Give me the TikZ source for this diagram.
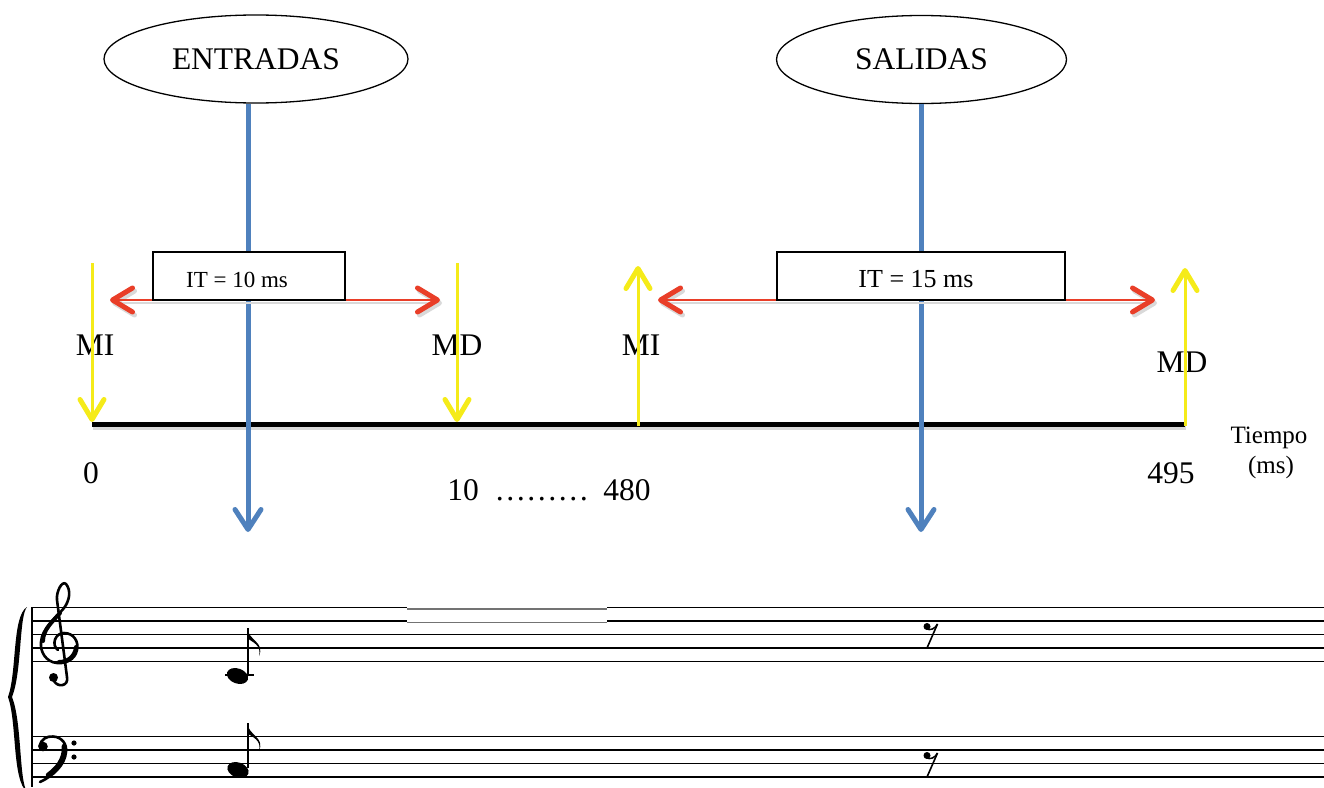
\documentclass[tikz,border=0pt]{standalone}
\usepackage{fontspec}
\setmainfont{Liberation Serif}
\usetikzlibrary{arrows.meta,shapes.geometric}
\definecolor{bluel}{RGB}{79,129,189}
\definecolor{redl}{RGB}{233,62,40}
\definecolor{yell}{RGB}{245,235,25}
\begin{document}
\begin{tikzpicture}[x=1pt,y=-1pt,
  bigtxt/.style={font=\fontsize{31.5}{36}\selectfont, inner sep=0pt, anchor=base},
  oval/.style={ellipse, draw, line width=1.3pt, minimum width=304pt, minimum height=88pt, inner sep=0pt, font=\fontsize{31.5}{36}\selectfont},
  itbox/.style={draw, line width=1.3pt, fill=white, inner sep=0pt, minimum height=48pt},
  bluearr/.style={line width=5pt, color=bluel, -{Straight Barb[length=20pt,width=26pt,round]}},
  redarr/.style={line width=2.5pt, color=redl, {Straight Barb[length=20pt,width=24pt,line width=5pt,round]}-{Straight Barb[length=20pt,width=24pt,line width=5pt,round]}},
  redshadow/.style={line width=2.5pt, color=black!15, {Straight Barb[length=20pt,width=24pt,line width=5pt,round]}-{Straight Barb[length=20pt,width=24pt,line width=5pt,round]}},
  yelarr/.style={line width=3pt, color=yell, -{Straight Barb[length=20pt,width=24pt,line width=5pt,round]}},
  staffline/.style={line width=1.7pt},
  clefline/.style={line width=2.6pt, line cap=round, line join=round},
]
\useasboundingbox (0,0) rectangle (1324,787);

% ---- ovals
\node[oval] (ent) at (256,59) {ENTRADAS};
\node[oval, minimum width=290pt] (sal) at (921.5,59.5) {SALIDAS};

% ---- time line
\coordinate (t0) at (92,424);
\coordinate (t1) at (1185,424);
\draw[line width=5pt, black!15, transform canvas={shift={(1pt,-3pt)}}] (t0) -- (t1);
\draw[line width=5pt] (t0) -- (t1);

% ---- blue arrows
\coordinate (entend) at (248,532);
\coordinate (salend) at (921,532);
\draw[bluearr] (ent.south -| entend) -- (entend);
\draw[bluearr] (sal.south -| salend) -- (salend);

% ---- red double arrows
\coordinate (r1a) at (110,300);
\coordinate (r1b) at (440,300);
\coordinate (r2a) at (658,300);
\coordinate (r2b) at (1155,300);
\draw[redshadow, transform canvas={shift={(2pt,-3pt)}}] (r1a) -- (r1b);
\draw[redshadow, transform canvas={shift={(2pt,-3pt)}}] (r2a) -- (r2b);
\draw[redarr] (r1a) -- (r1b);
\draw[redarr] (r2a) -- (r2b);

% ---- IT boxes
\node[itbox, minimum width=192pt] (box1) at (249,276) {};
\node[itbox, minimum width=288pt] (box2) at (921,276) {};
\node[font=\fontsize{23}{26}\selectfont, inner sep=0pt, anchor=base] (it1) at (237,287) {IT = 10 ms};
\node[font=\fontsize{26}{30}\selectfont, inner sep=0pt, anchor=base] (it2) at (916,287) {IT = 15 ms};

% ---- labels
\node[bigtxt] (mi1) at (95,355) {MI};
\node[bigtxt] (md1) at (457,355) {MD};
\node[bigtxt] (mi2) at (641,355) {MI};
\node[bigtxt] (md2) at (1182,372) {MD};
\node[bigtxt] (n0) at (91,483) {0};
\node[bigtxt] (n10) at (549,500) {10\hspace{0.5em}………\hspace{0.45em}480};
\node[bigtxt] (n495) at (1171,483) {495};
\node[font=\fontsize{25}{29}\selectfont, inner sep=0pt, anchor=base] (tiempo) at (1269,443) {Tiempo};
\node[font=\fontsize{25}{29}\selectfont, inner sep=0pt, anchor=base] (ms) at (1271,473) {(ms)};

% ---- yellow arrows
\coordinate (y1a) at (92,263);  \coordinate (y1b) at (92,422);
\coordinate (y2a) at (457,263); \coordinate (y2b) at (457,422);
\coordinate (y3a) at (638,426); \coordinate (y3b) at (638,266);
\coordinate (y4a) at (1185,426);\coordinate (y4b) at (1185,268);
\draw[yelarr] (y1a) -- (y1b);
\draw[yelarr] (y2a) -- (y2b);
\draw[yelarr] (y3a) -- (y3b);
\draw[yelarr] (y4a) -- (y4b);

% ---- staff system
\foreach \yy in {634.5,648,661.5} {\draw[staffline] (32,\yy) -- (1324,\yy);}
\foreach \yy in {607.5,621} {
  \draw[staffline] (32,\yy) -- (407,\yy);
  \draw[staffline, black!55] (407,\yy+1.5) -- (607,\yy+1.5);
  \draw[staffline] (607,\yy) -- (1324,\yy);
}
\foreach \yy in {736.5,750,763.5,777} {\draw[staffline] (32,\yy) -- (1324,\yy);}
\draw[line width=2pt] (32,607) -- (32,787);
% brace
\fill (27,607) .. controls (12,616) and (17,672) .. (8,697)
  .. controls (17,722) and (12,780) .. (27,792)
  .. controls (19,780) and (22,722) .. (12,697)
  .. controls (22,672) and (19,616) .. (27,607) -- cycle;
% treble clef (drawn)
\draw[clefline] (58,650) .. controls (51,645) and (55,633) .. (64,633)
  .. controls (74,633) and (79,642) .. (77,650)
  .. controls (75,660) and (65,664) .. (57,663)
  .. controls (46,662) and (40,652) .. (41,642)
  .. controls (42,628) and (56,618) .. (64,608)
  .. controls (70,600) and (71,590) .. (66,584)
  .. controls (62,580) and (56,592) .. (57,600)
  -- (67,677)
  .. controls (69,686) and (58,688) .. (54,681);
\draw[line width=4pt, line cap=round] (43,641) .. controls (43,630) and (52,622) .. (60,613);
\draw[line width=4pt, line cap=round] (76,647) .. controls (75,657) and (67,662) .. (59,662);
\fill (53.5,677.5) circle (4.5pt);
% bass clef (drawn)
\fill (43,746.5) circle (4.8pt);
\draw[clefline] (39.5,746) .. controls (41,739) and (47,736) .. (53,736.5)
  .. controls (62,737) and (67,744) .. (66,752)
  .. controls (65,765) and (53,776) .. (40,782);
\draw[line width=4.5pt, line cap=round] (64,746) .. controls (65,760) and (56,769) .. (48,775);
\fill (74,743) circle (2.6pt);
\fill (74,757) circle (2.6pt);
% treble note (C4, eighth)
\draw[line width=2pt] (225,675) -- (254,675);
\fill[rotate around={-20:(237.5,676)}] (237.5,676) ellipse [x radius=11pt, y radius=7.5pt];
\draw[line width=1.5pt] (247.8,674) -- (247.8,628);
\fill (247,628) .. controls (249,641) and (265,642) .. (259,656)
  .. controls (262,645) and (252,642) .. (247,638) -- cycle;
% bass note
\fill[rotate around={-20:(238,770)}] (238,770) ellipse [x radius=11pt, y radius=7.5pt];
\draw[line width=1.5pt] (247.8,768) -- (247.8,723);
\fill (247,723) .. controls (249,736) and (265,737) .. (259,751)
  .. controls (262,740) and (252,737) .. (247,733) -- cycle;
% eighth rests
\fill (927,626.5) circle (3.5pt);
\draw[line width=1.5pt] (926,628.5) .. controls (930,631) and (935,629) .. (937.5,624);
\draw[line width=1.6pt] (937.5,624) -- (927,648);
\fill (927,755.5) circle (3.5pt);
\draw[line width=1.5pt] (926,757.5) .. controls (930,760) and (935,758) .. (937.5,753);
\draw[line width=1.6pt] (937.5,753) -- (927,777);
\end{tikzpicture}
\end{document}
